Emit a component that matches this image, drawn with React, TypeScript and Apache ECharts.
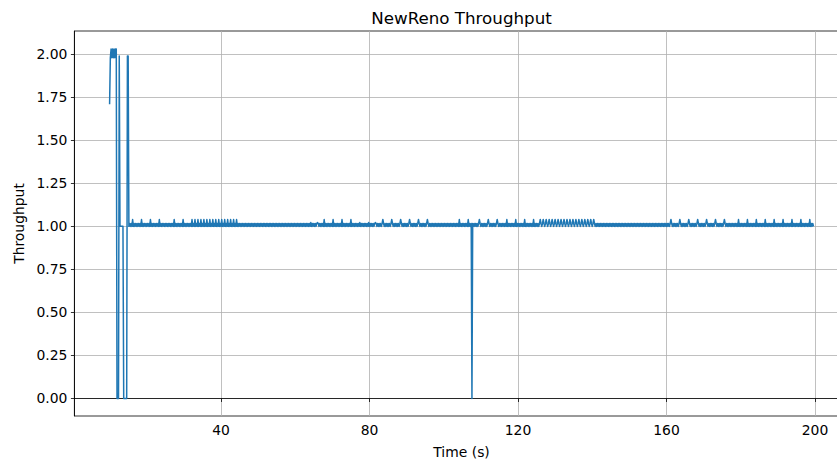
import React, { useEffect, useRef } from "react";
import * as echarts from "echarts";

// ---- data ----
const chartTitle = "NewReno Throughput";
const xAxisName = "Time (s)";
const yAxisName = "Throughput";

// samples start at sampleStart and are spaced sampleStep seconds apart
const sampleStart = 10;
const sampleStep = 0.2;

// one character per sample; each key stands for the level in the matching slot of levelValues
const levelKeys = ["E", "G", "H", "F", "a", "b", "c", "d", "z"];
const levelValues = [1.71, 1.98, 2.03, 1.99, 1.0, 1.017, 1.04, 1.022, 0];

// one row per 10 s (50 samples)
const throughputCodes = [
  "EGHGHGHGHH" + "zzzFaaaaaz" + "zzzzFFabab" + "acabababab" + "abacababab", // 10 s
  "ababacabab" + "abababacab" + "ababababab" + "abababacab" + "ababababac", // 20 s
  "ababababab" + "acabacabac" + "abacabacab" + "acabacabac" + "abacabacab", // 30 s
  "acabacabac" + "abacabacab" + "acabababab" + "ababababab" + "ababababab", // 40 s
  "ababababab" + "ababababab" + "ababababab" + "ababababab" + "ababababab", // 50 s
  "ababababab" + "ababababab" + "adabababab" + "dbabababac" + "ababababab", // 60 s
  "acabababab" + "abacababab" + "ababacabab" + "abababadab" + "ababababad", // 70 s
  "ababababdb" + "ababababcb" + "ababababab" + "cbabababab" + "abcbababab", // 80 s
  "ababcbabab" + "abababcbab" + "ababababcb" + "ababababab" + "ababababab", // 90 s
  "ababababab" + "ababababab" + "acabababab" + "abacababzb" + "ababababcb", // 100 s
  "ababababab" + "cbabababab" + "abcbababab" + "ababacabab" + "abababacab", // 110 s
  "ababababac" + "ababababab" + "acabababab" + "cbabcbabcb" + "abcbabcbab", // 120 s
  "cbabcbabcb" + "abcbabcbab" + "cbabcbabcb" + "abcbabcbab" + "cbabcbabcb", // 130 s
  "abcbababab" + "ababababab" + "ababababab" + "ababababab" + "ababababab", // 140 s
  "ababababab" + "ababababab" + "ababababab" + "ababababab" + "ababababab", // 150 s
  "abababcbab" + "ababababcb" + "ababababab" + "cbabababab" + "abcbababab", // 160 s
  "ababcbabab" + "abababcbab" + "ababababcb" + "ababababab" + "abababacab", // 170 s
  "ababababac" + "ababababab" + "acabababab" + "abacababab" + "ababacabab", // 180 s
  "abababacab" + "ababababac" + "ababababab" + "acabababab" + "abacababa", // 190 s
];

const xTicks = [40, 80, 120, 160, 200];
const yTicks = [0, 0.25, 0.5, 0.75, 1.0, 1.25, 1.5, 1.75, 2.0];
const xRange = [0.52, 209.08];
const yRange = [-0.1017, 2.1351];

function buildSeries(): [number, number][] {
  const codes = throughputCodes.join("").split("");
  return codes.map((ch, i) => [
    Number((sampleStart + sampleStep * i).toFixed(2)),
    levelValues[levelKeys.indexOf(ch)],
  ]);
}

export default function App() {
  const ref = useRef<HTMLDivElement>(null);
  useEffect(() => {
    if (!ref.current) return;
    const chart = echarts.init(ref.current, undefined, { renderer: "svg" });
    const font = "DejaVu Sans";
    const axisCommon = {
      axisLine: { show: true, lineStyle: { color: "#000", width: 0.8 } },
      axisTick: { show: true, length: 3.5, lineStyle: { color: "#000", width: 0.8 } },
      splitLine: { show: true, lineStyle: { color: "#b0b0b0", width: 0.8 } },
      nameTextStyle: { fontFamily: font, fontSize: 13.9, color: "#000" },
    };
    chart.setOption({
      animation: false,
      backgroundColor: "#fff",
      grid: {
        left: 74.4,
        right: -11.7,
        top: 31,
        bottom: 44,
        show: true,
        borderColor: "#000",
        borderWidth: 0.8,
        outerBoundsMode: "none",
      },
      graphic: [
        {
          type: "text",
          x: 461.5,
          y: 18,
          style: {
            text: chartTitle,
            fill: "#000",
            font: `16.7px "${font}"`,
            align: "center",
            verticalAlign: "middle",
          },
        },
      ],
      xAxis: {
        type: "value",
        min: xRange[0],
        max: xRange[1],
        name: xAxisName,
        nameLocation: "middle",
        nameGap: 29,
        ...axisCommon,
        axisTick: { ...axisCommon.axisTick, customValues: xTicks },
        axisLabel: {
          customValues: xTicks,
          margin: 7,
          fontFamily: font,
          fontSize: 13.9,
          color: "#000",
        },
      },
      yAxis: {
        type: "value",
        min: yRange[0],
        max: yRange[1],
        name: yAxisName,
        nameLocation: "middle",
        nameGap: 46,
        ...axisCommon,
        axisTick: { ...axisCommon.axisTick, customValues: yTicks },
        axisLabel: {
          customValues: yTicks,
          margin: 7,
          fontFamily: font,
          fontSize: 13.9,
          color: "#000",
          formatter: (v: number) => v.toFixed(2),
        },
      },
      series: [
        {
          type: "line",
          data: buildSeries(),
          showSymbol: false,
          symbol: "none",
          lineStyle: { color: "#1f77b4", width: 1.5, join: "round" },
          itemStyle: { color: "#1f77b4" },
          clip: true,
        },
      ],
    });
    return () => chart.dispose();
  }, []);
  return (
    <div
      ref={ref}
      style={{ position: "fixed", left: 0, top: 0, width: 837, height: 460, background: "#fff" }}
    />
  );
}
